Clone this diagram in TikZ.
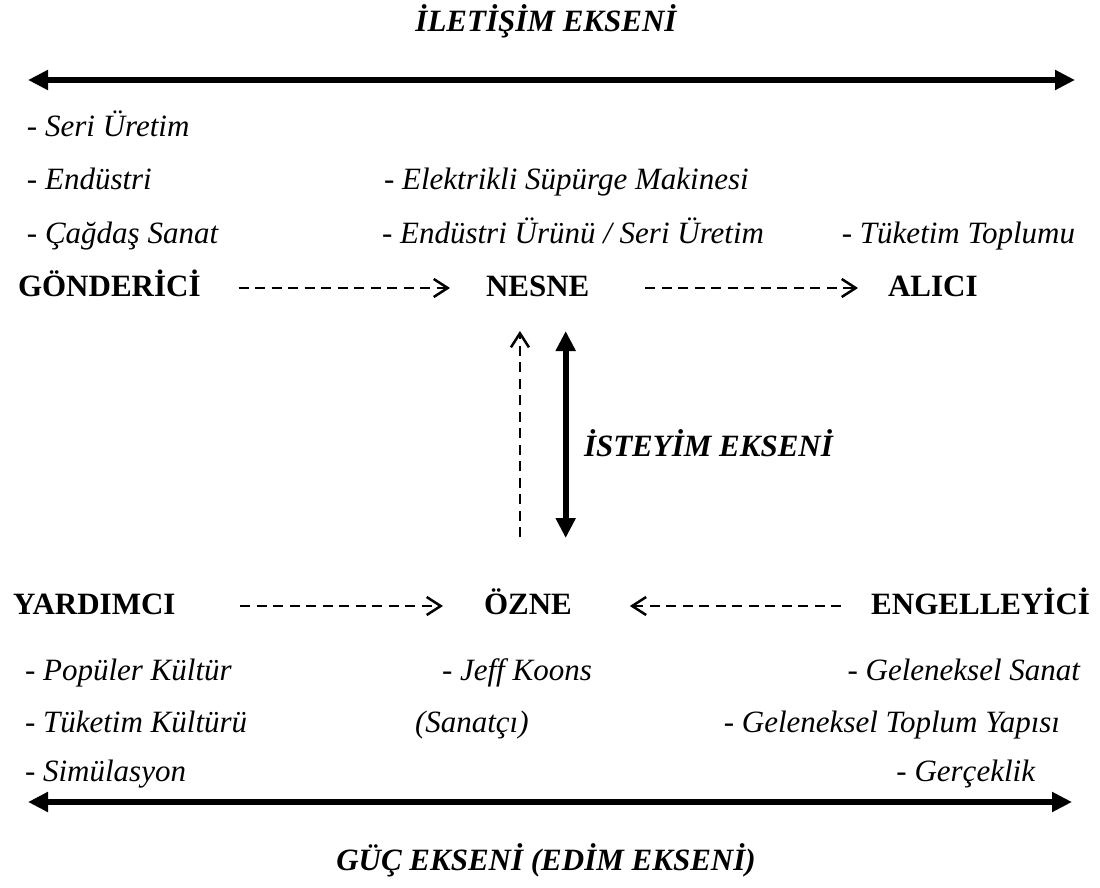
\documentclass[tikz,border=0pt]{standalone}
\usepackage{fontspec}
\setmainfont{Liberation Serif}
\usetikzlibrary{arrows.meta}
\begin{document}
\begin{tikzpicture}[x=1pt,y=-1pt,
  every node/.style={inner sep=0pt, outer sep=0pt, text height=16pt, text depth=0pt},
  actant/.style={font=\fontsize{31}{36}\selectfont\bfseries},
  axistitle/.style={font=\fontsize{31}{36}\selectfont\bfseries\itshape},
  item/.style={font=\fontsize{31}{36}\selectfont\itshape},
  axisarrow/.style={line width=6pt, {Triangle[length=20pt,width=19pt]}-{Triangle[length=20pt,width=19pt]}},
  flow/.style={line width=2.5pt, dash pattern=on 10pt off 6.5pt, -{Straight Barb[length=14pt,width=18pt]}},
]
\useasboundingbox (0,0) rectangle (1100,888);

% communication axis
\node[axistitle, anchor=base] (tcom) at (546,32) {İLETİŞİM EKSENİ};
\coordinate (comL) at (28,80);
\coordinate (comR) at (1075,80);
\draw[axisarrow] (comL) -- (comR);

% sender / object / receiver
\node[item, anchor=base west] (s1) at (27,137) {- Seri Üretim};
\node[item, anchor=base west] (s2) at (27,189) {- Endüstri};
\node[item, anchor=base west] (s3) at (27,243) {- Çağdaş Sanat};
\node[item, anchor=base west] (o1) at (384,189) {- Elektrikli Süpürge Makinesi};
\node[item, anchor=base west] (o2) at (382,243) {- Endüstri Ürünü / Seri Üretim};
\node[item, anchor=base east] (r1) at (1075,243) {- Tüketim Toplumu};

\node[actant, anchor=base west] (gon) at (18,296) {GÖNDERİCİ};
\node[actant, anchor=base west] (nes) at (486,296) {NESNE};
\node[actant, anchor=base west] (ali) at (888,296) {ALICI};

\draw[flow, shorten <=38pt, shorten >=36pt] (gon.east) -- (nes.west);
\draw[flow, shorten <=56pt, shorten >=30pt] (nes.east) -- (ali.west);

% helper / subject / opponent
\node[actant, anchor=base west] (yar) at (13,614) {YARDIMCI};
\node[actant, anchor=base west] (oz) at (484,614) {ÖZNE};
\node[actant, anchor=base east] (eng) at (1090,614) {ENGELLEYİCİ};

\draw[flow, shorten <=65pt, shorten >=41pt] (yar.east) -- (oz.west);
\draw[flow, shorten <=30pt, shorten >=58pt] (eng.west) -- (oz.east);

% desire axis
\draw[flow, shorten <=61pt, shorten >=35pt] ([xshift=-8pt]oz.north) -- ([xshift=-8pt]oz.north |- nes.south);
\draw[axisarrow, shorten <=35pt, shorten >=60pt] ([xshift=28pt]nes.south) -- ([xshift=28pt]nes.south |- oz.north);
\node[axistitle, anchor=base west] (tdes) at (584,456) {İSTEYİM EKSENİ};

\node[item, anchor=base west] (y1) at (25,680) {- Popüler Kültür};
\node[item, anchor=base west] (z1) at (442,680) {- Jeff Koons};
\node[item, anchor=base east] (e1) at (1080,680) {- Geleneksel Sanat};
\node[item, anchor=base west] (y2) at (25,732) {- Tüketim Kültürü};
\node[item, anchor=base west] (z2) at (415,732) {(Sanatçı)};
\node[item, anchor=base east] (e2) at (1060,732) {- Geleneksel Toplum Yapısı};
\node[item, anchor=base west] (y3) at (25,781) {- Simülasyon};
\node[item, anchor=base east] (e3) at (1035,781) {- Gerçeklik};

% power axis
\coordinate (powL) at (28,802);
\coordinate (powR) at (1072,802);
\draw[axisarrow] (powL) -- (powR);
\node[axistitle, anchor=base] (tpow) at (546,870) {GÜÇ EKSENİ (EDİM EKSENİ)};
\end{tikzpicture}
\end{document}
